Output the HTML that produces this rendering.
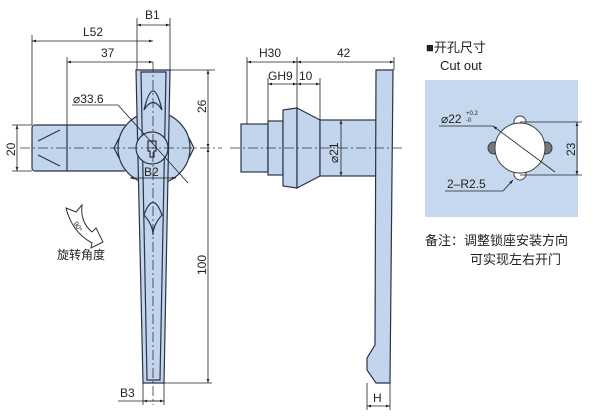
<!DOCTYPE html>
<html><head><meta charset="utf-8"><style>
html,body{margin:0;padding:0;background:#fff;}
svg{display:block;}
text{font-family:"Liberation Sans","Noto Sans CJK SC",sans-serif;fill:#222;}
</style></head><body>
<svg width="600" height="416" viewBox="0 0 600 416" xmlns="http://www.w3.org/2000/svg">
<defs>
<marker id="a" viewBox="0 0 10 10" refX="10" refY="5" markerWidth="6" markerHeight="5" orient="auto-start-reverse"><path d="M0,1.5 L10,5 L0,8.5z" fill="#222"/></marker>
</defs>
<g stroke="#2a3348" stroke-width="1.2" fill="#c3d5ec">
<rect x="32" y="125" width="95" height="46" rx="3"/>
<line x1="67" y1="125" x2="67" y2="171"/>
<line x1="38" y1="141" x2="60" y2="130"/><line x1="38" y1="155" x2="60" y2="166"/>
<path d="M119,138 L114,148 L119,158 Z M189,138 L194,148 L189,158 Z"/>
<circle cx="154" cy="148" r="36"/>
<path d="M136,70 L170,70 L164,383 L143,383 Z"/>
<path d="M141,72 L166,72 L160,380 L147,380 Z" fill="none"/>
<path d="M144,110 Q153,72 162,110 Q153,95 144,110z"/>
<path d="M144,215 Q153,190 162,215 Q153,225 153,235 Q153,225 144,215z"/>
<circle cx="152" cy="148" r="16"/>
<path d="M148,141 h8 v10 h-2 v6 h-4 v-6 h-2z"/>
<rect x="241" y="124" width="27" height="48"/>
<rect x="268" y="121" width="15" height="54"/>
<path d="M283,110 L297,108 L297,188 L283,186z"/>
<path d="M297,108 L320,120 L320,176 L297,188z"/>
<rect x="320" y="120" width="57" height="56"/>
<path d="M376,70 L393,70 L390,383 L376,383 L367,370 L367,358 L375,345 Z"/>
</g>
<g stroke="#333" stroke-width="0.8" stroke-dasharray="10,3,2,3" fill="none">
<line x1="20" y1="148" x2="222" y2="148"/>
<line x1="153" y1="62" x2="153" y2="405"/>
<line x1="230" y1="148" x2="405" y2="148"/>
<line x1="520" y1="100" x2="520" y2="196"/>
<line x1="478" y1="148" x2="562" y2="148"/>
</g>
<g stroke="#222" stroke-width="0.8" fill="none">
<line x1="137" y1="18" x2="137" y2="70"/><line x1="170" y1="18" x2="170" y2="70"/>
<line x1="137" y1="25" x2="170" y2="25" marker-start="url(#a)" marker-end="url(#a)"/>
<line x1="32" y1="35" x2="32" y2="125"/><line x1="67" y1="57" x2="67" y2="125"/>
<line x1="32" y1="41" x2="153" y2="41" marker-start="url(#a)" marker-end="url(#a)"/>
<line x1="67" y1="62" x2="153" y2="62" marker-start="url(#a)" marker-end="url(#a)"/>
<line x1="170" y1="70" x2="215" y2="70"/>
<line x1="208" y1="70" x2="208" y2="148" marker-start="url(#a)" marker-end="url(#a)"/>
<line x1="208" y1="148" x2="208" y2="383" marker-start="url(#a)" marker-end="url(#a)"/>
<line x1="164" y1="383" x2="212" y2="383"/>
<line x1="12" y1="125" x2="32" y2="125"/><line x1="12" y1="171" x2="32" y2="171"/>
<line x1="17" y1="125" x2="17" y2="171" marker-start="url(#a)" marker-end="url(#a)"/>
<line x1="72" y1="105" x2="118" y2="105"/><line x1="118" y1="105" x2="188" y2="183"/>
<line x1="130" y1="178" x2="176" y2="178" marker-start="url(#a)" marker-end="url(#a)"/>
<line x1="143" y1="383" x2="143" y2="405"/><line x1="164" y1="383" x2="164" y2="405"/>
<line x1="118" y1="401" x2="164" y2="401"/>
<line x1="143" y1="401" x2="164" y2="401" marker-start="url(#a)" marker-end="url(#a)"/>
<line x1="247" y1="57" x2="247" y2="124"/><line x1="297" y1="57" x2="297" y2="108"/><line x1="394" y1="57" x2="394" y2="70"/>
<line x1="247" y1="62" x2="297" y2="62" marker-start="url(#a)" marker-end="url(#a)"/>
<line x1="297" y1="62" x2="394" y2="62" marker-start="url(#a)" marker-end="url(#a)"/>
<line x1="268" y1="78" x2="268" y2="121"/><line x1="320" y1="78" x2="320" y2="120"/>
<line x1="268" y1="84" x2="297" y2="84" marker-start="url(#a)" marker-end="url(#a)"/>
<line x1="297" y1="84" x2="320" y2="84" marker-start="url(#a)" marker-end="url(#a)"/>
<line x1="341" y1="120" x2="341" y2="176" marker-start="url(#a)" marker-end="url(#a)"/>
<line x1="367" y1="383" x2="367" y2="410"/><line x1="390" y1="383" x2="390" y2="410"/>
<line x1="367" y1="406" x2="390" y2="406" marker-start="url(#a)" marker-end="url(#a)"/>
</g>
<rect x="425" y="80" width="153" height="137" fill="#c5d8ee"/>
<g stroke="#333" stroke-width="0.9">
<circle cx="494" cy="148" r="6" fill="#777"/><circle cx="546" cy="148" r="6" fill="#777"/>
<circle cx="520" cy="122" r="6" fill="#fff"/><circle cx="520" cy="174" r="6" fill="#fff"/>
<circle cx="520" cy="148" r="25" fill="#fff"/>
</g>
<g stroke="#222" stroke-width="0.8" fill="none">
<line x1="439" y1="126" x2="493" y2="126"/><line x1="493" y1="126" x2="555" y2="172" marker-start="url(#a)"/>
<line x1="520" y1="122" x2="582" y2="122"/><line x1="520" y1="175" x2="582" y2="175"/>
<line x1="577" y1="122" x2="577" y2="175" marker-start="url(#a)" marker-end="url(#a)"/>
<line x1="445" y1="191" x2="503" y2="191"/><line x1="503" y1="191" x2="513" y2="180" marker-end="url(#a)"/>
</g>
<path d="M66,208 L76,212 L82,205 Q80,222 92,232 L96,228 L103,242 L91,248 L92,243 Q72,232 66,208 Z" stroke="#333" stroke-width="1" fill="#fff"/>
<text x="74" y="226" font-size="7" transform="rotate(60 76 224)">90°</text>
<g font-size="12">
<text x="145" y="19">B1</text>
<text x="83" y="36">L52</text>
<text x="101" y="57">37</text>
<text x="73" y="103">⌀33.6</text>
<text x="144" y="176">B2</text>
<text x="120" y="397">B3</text>
<text transform="translate(206,113) rotate(-90)">26</text>
<text transform="translate(15,156) rotate(-90)">20</text>
<text transform="translate(206,275) rotate(-90)">100</text>
<text x="57" y="259">旋转角度</text>
<text x="259" y="57">H30</text>
<text x="337" y="57">42</text>
<text x="268" y="80">GH9</text>
<text x="299" y="80">10</text>
<text transform="translate(338,163) rotate(-90)">⌀21</text>
<text x="373" y="402">H</text>
<text x="426" y="52" font-size="13">■开孔尺寸</text>
<text x="440" y="70" font-size="13">Cut out</text>
<text x="441" y="123">⌀22</text>
<text x="466" y="115" font-size="6">+0.2</text>
<text x="466" y="122" font-size="6">-0</text>
<text x="447" y="188">2–R2.5</text>
<text transform="translate(575,156) rotate(-90)">23</text>
<text x="425" y="245" font-size="13">备注：调整锁座安装方向</text>
<text x="470" y="264" font-size="13">可实现左右开门</text>
</g>
</svg>
</body></html>
